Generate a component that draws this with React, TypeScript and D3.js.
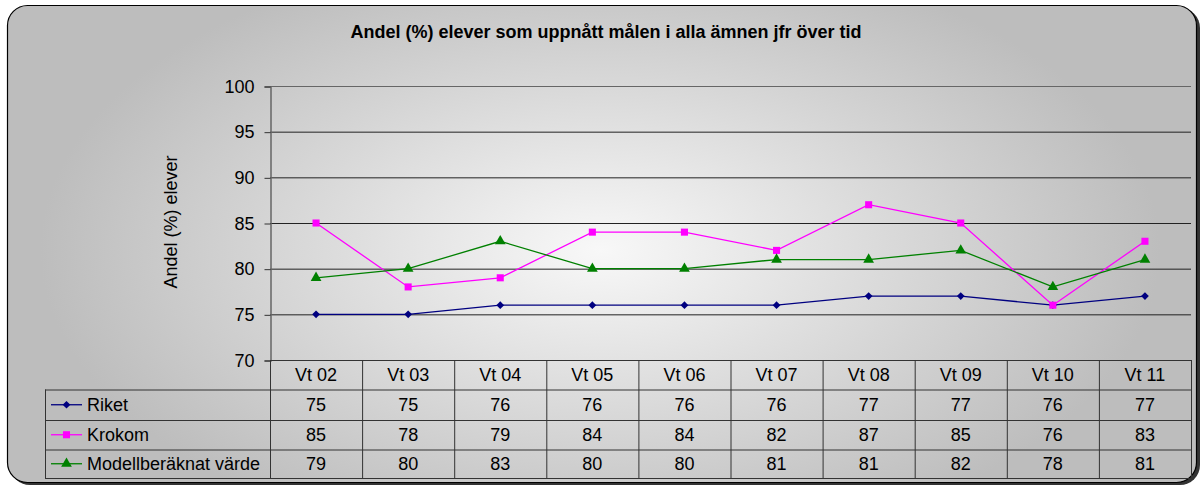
import React, { useEffect, useRef } from 'react';
import * as d3 from 'd3';

const categories = ['Vt 02', 'Vt 03', 'Vt 04', 'Vt 05', 'Vt 06', 'Vt 07', 'Vt 08', 'Vt 09', 'Vt 10', 'Vt 11'];
const riket = [75, 75, 76, 76, 76, 76, 77, 77, 76, 77];
const krokom = [85, 78, 79, 84, 84, 82, 87, 85, 76, 83];
const modell = [79, 80, 83, 80, 80, 81, 81, 82, 78, 81];
const yTicks = [70, 75, 80, 85, 90, 95, 100];

const series = [
  { name: 'Riket', values: riket, color: '#000080', symbol: d3.symbolSquare, size: 30, rot: 45 },
  { name: 'Krokom', values: krokom, color: '#FF00FF', symbol: d3.symbolSquare, size: 50, rot: 0 },
  { name: 'Modellberäknat värde', values: modell, color: '#008000', symbol: d3.symbolTriangle, size: 50, rot: 0 },
];

const W = 1201, H = 486;

function App() {
  const ref = useRef<SVGSVGElement>(null);

  useEffect(() => {
    const svg = d3.select(ref.current);
    svg.selectAll('*').remove();
    const font = 'Liberation Sans, Arial, sans-serif';
    const fs = '18px';

    const defs = svg.append('defs');
    const grad = defs.append('radialGradient').attr('id', 'bg')
      .attr('gradientUnits', 'userSpaceOnUse')
      .attr('cx', 600).attr('cy', 250).attr('r', 560)
      .attr('gradientTransform', 'translate(600,250) scale(1,0.55) translate(-600,-250)');
    grad.append('stop').attr('offset', '0%').attr('stop-color', '#f8f8f8');
    grad.append('stop').attr('offset', '100%').attr('stop-color', '#bdbdbd');

    // shadow + frame
    svg.append('rect').attr('x', 10).attr('y', 8).attr('width', 1190).attr('height', 477)
      .attr('rx', 20).attr('fill', '#333');
    svg.append('rect').attr('x', 7.5).attr('y', 5.5).attr('width', 1189).attr('height', 477)
      .attr('rx', 20).attr('fill', 'url(#bg)').attr('stroke', '#000').attr('stroke-width', 1.2);

    svg.append('text').attr('x', 606).attr('y', 38).attr('text-anchor', 'middle')
      .style('font-family', font).style('font-weight', 'bold').style('font-size', '18px')
      .text('Andel (%) elever som uppnått målen i alla ämnen jfr över tid');

    const left = 270, right = 1191, top = 86, bottom = 360;
    const x = d3.scaleBand().domain(categories).range([left, right]);
    const y = d3.scaleLinear().domain([70, 100]).range([bottom, top]);

    // gridlines
    svg.append('g').selectAll('line').data(yTicks.filter(t => t > 70)).join('line')
      .attr('x1', left).attr('x2', right)
      .attr('y1', d => y(d) + 0.5).attr('y2', d => y(d) + 0.5)
      .attr('stroke', d => d === 100 ? '#666' : '#222').attr('stroke-width', 1);

    // y axis
    const yAxis = svg.append('g').attr('transform', `translate(${left + 0.5},0.5)`)
      .call(d3.axisLeft(y).tickValues(yTicks).tickSize(6).tickPadding(10));
    yAxis.select('.domain').attr('stroke', '#666').attr('stroke-width', 1.5);
    yAxis.selectAll('.tick line').attr('stroke', '#333');
    yAxis.selectAll('text').style('font-family', font).style('font-size', fs).attr('fill', '#000');

    svg.append('text').attr('transform', `translate(177,${(top + bottom) / 2 - 1}) rotate(-90)`)
      .attr('text-anchor', 'middle').style('font-family', font).style('font-size', fs)
      .text('Andel (%) elever');

    // lines + markers
    series.forEach(s => {
      const line = d3.line<number>().x((_, i) => x(categories[i])! + x.bandwidth() / 2).y(d => y(d));
      svg.append('path').datum(s.values).attr('d', line).attr('fill', 'none')
        .attr('stroke', s.color).attr('stroke-width', 1.3);
      svg.append('g').selectAll('path').data(s.values).join('path')
        .attr('transform', (d, i) => `translate(${x(categories[i])! + x.bandwidth() / 2},${y(d)}) rotate(${s.rot})`)
        .attr('d', d3.symbol().type(s.symbol).size(s.size)).attr('fill', s.color);
    });

    // data table
    const rowY = [360, 389.5, 420, 449.5, 478];
    const tLeft = 45;
    const tg = svg.append('g');
    tg.selectAll('.hl').data(rowY).join('line').attr('class', 'hl')
      .attr('x1', (d, i) => i === 0 ? left : tLeft).attr('x2', right)
      .attr('y1', d => d + 0.5).attr('y2', d => d + 0.5)
      .attr('stroke', '#333').attr('stroke-width', 1);
    const vx = categories.map(c => x(c)!).concat([right]);
    tg.selectAll('.vl').data(vx).join('line').attr('class', 'vl')
      .attr('x1', d => d + 0.5).attr('x2', d => d + 0.5)
      .attr('y1', bottom).attr('y2', rowY[4])
      .attr('stroke', '#333').attr('stroke-width', 1);
    tg.append('line').attr('x1', tLeft + 0.5).attr('x2', tLeft + 0.5)
      .attr('y1', rowY[1]).attr('y2', rowY[4]).attr('stroke', '#333');

    tg.selectAll('.hdr').data(categories).join('text').attr('class', 'hdr')
      .attr('x', d => x(d)! + x.bandwidth() / 2).attr('y', (rowY[0] + rowY[1]) / 2 + 6.5)
      .attr('text-anchor', 'middle').style('font-family', font).style('font-size', fs)
      .text(d => d);

    series.forEach((s, r) => {
      const cy = (rowY[r + 1] + rowY[r + 2]) / 2;
      tg.append('g').selectAll('text').data(s.values).join('text')
        .attr('x', (d, i) => x(categories[i])! + x.bandwidth() / 2).attr('y', cy + 6.5)
        .attr('text-anchor', 'middle').style('font-family', font).style('font-size', fs)
        .text(d => d);
      tg.append('line').attr('x1', 51).attr('x2', 82).attr('y1', cy).attr('y2', cy)
        .attr('stroke', s.color).attr('stroke-width', 1.3);
      tg.append('path').attr('transform', `translate(66.5,${cy}) rotate(${s.rot})`)
        .attr('d', d3.symbol().type(s.symbol).size(s.size)).attr('fill', s.color);
      tg.append('text').attr('x', 87).attr('y', cy + 6.5)
        .style('font-family', font).style('font-size', fs).text(s.name);
    });
  }, []);

  return (
    <svg ref={ref} width={W} height={H} style={{ position: 'absolute', left: 0, top: 0 }} />
  );
}

export default App;
